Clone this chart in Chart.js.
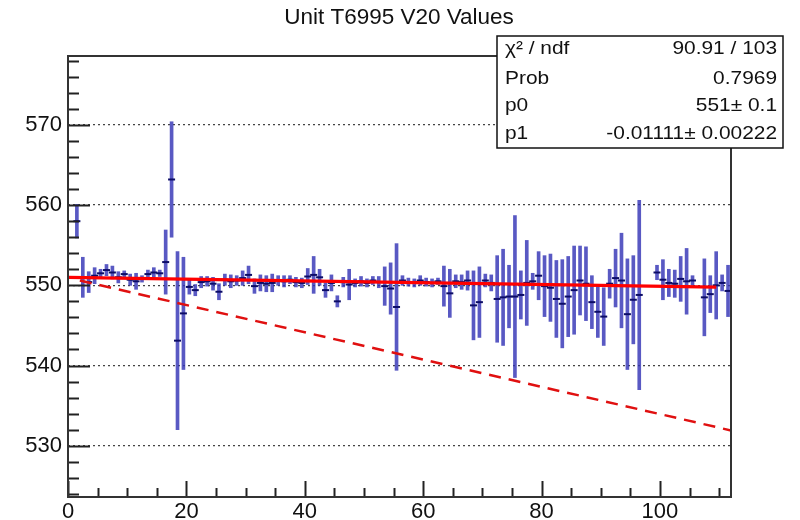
<!DOCTYPE html>
<html>
<head>
<meta charset="utf-8">
<script src="https://cdn.jsdelivr.net/npm/chart.js@4/dist/chart.umd.min.js"></script>
<style>
  html, body { margin: 0; padding: 0; background: #ffffff; }
  #wrap { width: 800px; height: 520px; position: relative; }
</style>
</head>
<body>
<div id="wrap"><canvas id="chart" width="800" height="520"></canvas></div>
<script>
// Run number (bin centre) of every measurement
const runIndex = [
  1.5, 2.5, 3.5, 4.5, 5.5, 6.5, 7.5, 8.5, 9.5, 10.5,
  11.5, 12.5, 13.5, 14.5, 15.5, 16.5, 17.5, 18.5, 19.5, 20.5,
  21.5, 22.5, 23.5, 24.5, 25.5, 26.5, 27.5, 28.5, 29.5, 30.5,
  31.5, 32.5, 33.5, 34.5, 35.5, 36.5, 37.5, 38.5, 39.5, 40.5,
  41.5, 42.5, 43.5, 44.5, 45.5, 46.5, 47.5, 48.5, 49.5, 50.5,
  51.5, 52.5, 53.5, 54.5, 55.5, 56.5, 57.5, 58.5, 59.5, 60.5,
  61.5, 62.5, 63.5, 64.5, 65.5, 66.5, 67.5, 68.5, 69.5, 70.5,
  71.5, 72.5, 73.5, 74.5, 75.5, 76.5, 77.5, 78.5, 79.5, 80.5,
  81.5, 82.5, 83.5, 84.5, 85.5, 86.5, 87.5, 88.5, 89.5, 90.5,
  91.5, 92.5, 93.5, 94.5, 95.5, 96.5,
  99.5, 100.5, 101.5, 102.5, 103.5, 104.5, 105.5, 107.5, 108.5, 109.5,
  110.5, 111.5
];

// Measured V20 value per run
const v20Values = [
  558.0, 551.0, 550.4, 551.2, 551.5, 551.9, 551.6, 551.0, 551.4, 550.7,
  550.5, 550.8, 551.4, 551.6, 551.5, 552.9, 563.2, 543.1, 546.5, 549.8,
  549.4, 550.4, 550.5, 550.2, 549.2, 550.7, 550.5, 550.6, 550.9, 551.3,
  549.9, 550.3, 550.2, 550.3, 550.6, 550.5, 550.7, 550.4, 550.3, 551.1,
  551.3, 551.0, 549.4, 550.3, 548.0, 550.4, 550.1, 550.3, 550.5, 550.3,
  550.6, 550.4, 549.9, 549.6, 547.3, 550.6, 550.4, 550.3, 550.6, 550.4,
  550.3, 550.5, 549.9, 549.0, 550.5, 550.4, 550.6, 547.5, 547.9, 550.6,
  550.3, 548.3, 548.5, 548.6, 548.6, 548.8, 550.3, 550.5, 551.2, 549.9,
  549.7, 548.3, 547.7, 548.6, 549.4, 550.6, 550.2, 547.9, 546.7, 546.1,
  550.2, 550.9, 550.6, 546.4, 548.2, 548.8,
  551.6, 550.7, 550.3, 550.2, 550.8, 550.5, 550.6, 548.5, 548.9, 550.0,
  550.3, 549.3
];

// Uncertainty (half length of the error bar) per run
const v20Errors = [
  2.1, 2.5, 1.3, 1.0, 0.5, 0.7, 0.8, 0.7, 0.4, 0.7,
  1.0, 0.4, 0.5, 0.6, 0.4, 4.0, 7.2, 11.1, 7.0, 0.9,
  0.7, 0.7, 0.6, 0.8, 1.0, 0.7, 0.8, 0.6, 0.9, 1.1,
  0.9, 1.0, 1.0, 1.1, 0.6, 0.7, 0.5, 0.6, 0.6, 1.0,
  2.3, 1.0, 0.9, 1.0, 0.7, 0.6, 1.9, 0.5, 0.6, 0.5,
  0.5, 0.7, 2.4, 3.2, 7.9, 0.6, 0.5, 0.5, 0.6, 0.5,
  0.5, 0.4, 2.5, 3.0, 0.8, 0.9, 1.2, 4.3, 4.4, 0.8,
  1.0, 5.4, 6.0, 3.9, 10.1, 3.0, 5.3, 1.0, 3.0, 3.8,
  4.2, 4.8, 5.5, 5.0, 5.5, 4.3, 4.6, 3.3, 3.2, 3.6,
  1.8, 3.6, 5.9, 6.9, 5.5, 11.8,
  0.9, 2.5, 1.7, 1.7, 2.8, 4.1, 0.6, 4.8, 2.3, 4.2,
  1.0, 3.2
];

// Axis labels
const xTickValues = [0, 20, 40, 60, 80, 100];
const yTickValues = [530, 540, 550, 560, 570];

// Straight-line fit pol1: p0 + p1*x, and the range it was fitted over
const fitP0 = 551;
const fitP1 = -0.01111;
const fitRange = [0, 109.5];

// Dashed reference line (end points)
const refLineX = [2, 112];
const refLineY = [550.6, 531.9];

// Fit statistics panel
const statsLabels = ['\u03C7\u00B2 / ndf', 'Prob', 'p0', 'p1'];
const statsValues = ['90.91 / 103', '0.7969', '551\u00B1 0.1', '-0.01111\u00B1 0.00222'];

const chartTitle = 'Unit T6995 V20 Values';

// ---- derived datasets ----
const errorBarData = runIndex.map((x, i) => ({ x: x, y: [v20Values[i] - v20Errors[i], v20Values[i] + v20Errors[i]] }));
const centreData = runIndex.map((x, i) => ({ x: x, y: v20Values[i] }));
const fitData = fitRange.map(x => ({ x: x, y: fitP0 + fitP1 * x }));
const refData = refLineX.map((x, i) => ({ x: x, y: refLineY[i] }));

const FONT = "'Liberation Sans', Arial, Helvetica, sans-serif";

// Frame, inward tick marks, title and statistics box in ROOT style
const rootStyle = {
  id: 'rootStyle',
  afterDraw(chart) {
    const { ctx, chartArea: a, scales } = chart;
    const xs = scales.x, ys = scales.y;
    ctx.save();

    // y ticks (major every 10, minor every 2)
    ctx.strokeStyle = '#222';
    ctx.lineWidth = 2;
    for (let v = Math.ceil(ys.min / 2) * 2; v <= ys.max; v += 2) {
      const py = Math.round(ys.getPixelForValue(v)) + 0.5;
      const len = (v % 10 === 0) ? 22 : 11;
      ctx.beginPath();
      ctx.moveTo(a.left, py);
      ctx.lineTo(a.left + len, py);
      ctx.stroke();
    }
    // x ticks (major every 20, minor every 5)
    for (let v = 0; v <= xs.max; v += 5) {
      const px = Math.round(xs.getPixelForValue(v)) + 0.5;
      const len = (v % 20 === 0) ? 16 : 9;
      ctx.beginPath();
      ctx.moveTo(px, a.bottom);
      ctx.lineTo(px, a.bottom - len);
      ctx.stroke();
    }

    // frame
    ctx.lineWidth = 2;
    ctx.strokeStyle = '#333';
    ctx.strokeRect(a.left, a.top, a.right - a.left, a.bottom - a.top);

    // title
    ctx.fillStyle = '#111';
    ctx.font = '22.5px ' + FONT;
    ctx.textAlign = 'center';
    ctx.textBaseline = 'middle';
    ctx.fillText(chartTitle, 399, 18);

    // statistics box
    const bx = 497, by = 36, bw = 286, bh = 112;
    ctx.fillStyle = '#ffffff';
    ctx.fillRect(bx, by, bw, bh);
    ctx.lineWidth = 1.5;
    ctx.strokeStyle = '#111';
    ctx.strokeRect(bx, by, bw, bh);
    const rowY = [49, 79, 106, 134];
    const sx = 1.1;
    ctx.font = '19px ' + FONT;
    ctx.fillStyle = '#111';
    statsLabels.forEach((t, i) => {
      ctx.save();
      ctx.translate(bx + 8, rowY[i]);
      ctx.scale(sx, 1);
      ctx.textAlign = 'left';
      ctx.fillText(t, 0, 0);
      ctx.restore();
      ctx.save();
      ctx.translate(bx + bw - 6, rowY[i]);
      ctx.scale(sx, 1);
      ctx.textAlign = 'right';
      ctx.fillText(statsValues[i], 0, 0);
      ctx.restore();
    });
    ctx.restore();
  }
};

new Chart(document.getElementById('chart'), {
  data: {
    datasets: [
      {
        type: 'line',
        data: fitData,
        borderColor: '#ff0000',
        borderWidth: 3.2,
        pointRadius: 0,
        tension: 0,
        order: 1
      },
      {
        type: 'line',
        data: refData,
        borderColor: '#e01010',
        borderWidth: 2.5,
        borderDash: [12, 8],
        pointRadius: 0,
        tension: 0,
        order: 1
      },
      {
        type: 'scatter',
        data: centreData,
        pointStyle: 'line',
        pointRadius: 3.5,
        borderColor: '#0c0c66',
        borderWidth: 2,
        order: 2
      },
      {
        type: 'bar',
        data: errorBarData,
        backgroundColor: 'rgba(52,52,182,0.82)',
        borderWidth: 0,
        barThickness: 3,
        grouped: false,
        order: 3
      }
    ]
  },
  options: {
    responsive: false,
    animation: false,
    devicePixelRatio: 1,
    layout: { padding: { left: 0, top: 56, right: 69, bottom: 0 } },
    plugins: {
      legend: { display: false },
      tooltip: { enabled: false },
      title: { display: false }
    },
    scales: {
      x: {
        type: 'linear',
        min: 0,
        max: 112,
        offset: false,
        afterBuildTicks: s => { s.ticks = xTickValues.map(v => ({ value: v })); },
        afterFit: s => { s.height = 23; },
        grid: { display: false, drawTicks: false, offset: false },
        border: { display: false },
        ticks: {
          font: { family: FONT, size: 22 },
          color: '#111',
          padding: 2,
          maxRotation: 0,
          autoSkip: false
        }
      },
      y: {
        type: 'linear',
        min: 523.6,
        max: 578.6,
        afterBuildTicks: s => { s.ticks = yTickValues.map(v => ({ value: v })); },
        afterFit: s => { s.width = 68; },
        grid: { color: '#444', lineWidth: 1.3, drawTicks: false },
        border: { display: false, dash: [2, 3] },
        ticks: {
          font: { family: FONT, size: 22 },
          color: '#111',
          padding: 6
        }
      }
    }
  },
  plugins: [rootStyle]
});
</script>
</body>
</html>
